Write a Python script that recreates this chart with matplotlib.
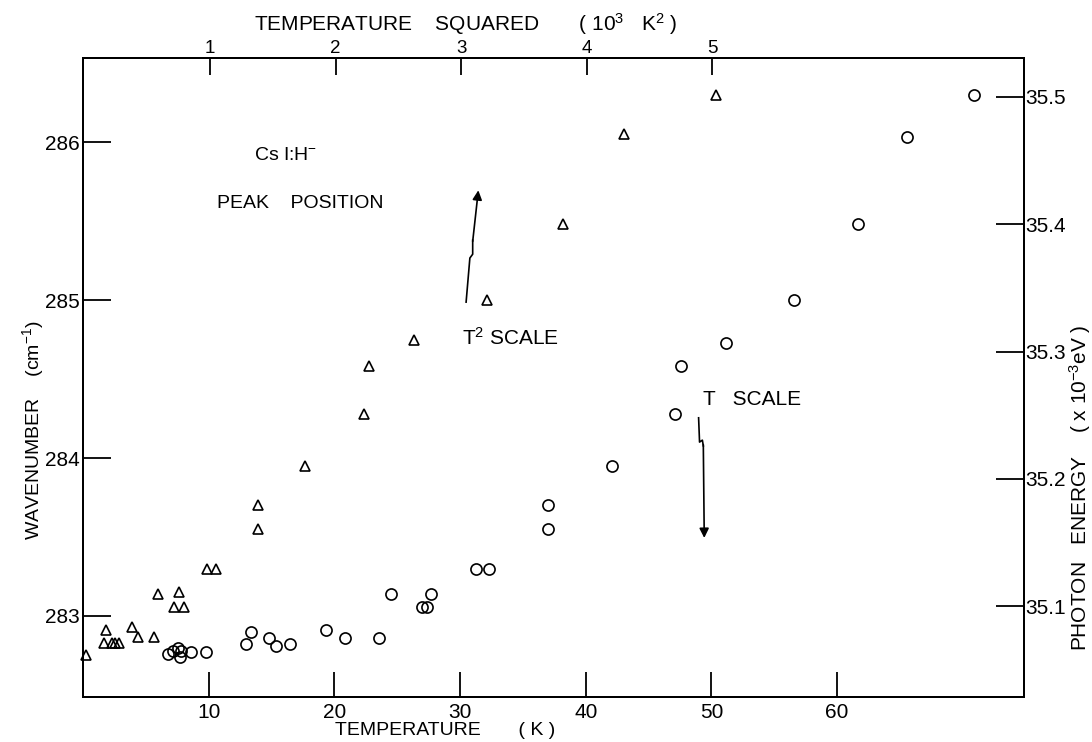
import matplotlib.pyplot as plt

plt.rcParams['font.family'] = ['Liberation Sans', 'DejaVu Sans']
plt.rcParams['mathtext.default'] = 'regular'

# peak position vs temperature (plotted on the T scale, open circles)
temp_k = [6.77, 7.20, 7.57, 7.78, 7.70, 8.57, 9.81, 12.94, 13.33, 14.82,
          15.37, 16.45, 19.37, 20.85, 23.52, 24.52, 26.96, 27.35, 27.67,
          31.24, 32.30, 37.0, 37.0, 42.1, 47.1, 47.6, 51.2, 56.6, 61.7,
          65.6, 70.9]
wn_t = [282.76, 282.78, 282.80, 282.78, 282.74, 282.77, 282.77, 282.82,
        282.90, 282.86, 282.81, 282.82, 282.91, 282.86, 282.86, 283.14,
        283.06, 283.06, 283.14, 283.30, 283.30, 283.70, 283.55, 283.95,
        284.28, 284.58, 284.73, 285.00, 285.48, 286.03, 286.30]

# same peak vs temperature squared (K^2, triangles)
temp_sq = [10, 171, 158, 217, 243, 275, 376, 429, 554, 588, 753, 716, 795,
           974, 1045, 1382, 1382, 1757, 2227, 2267, 2625, 3207, 3813, 4299,
           5032]
wn_sq = [282.75, 282.91, 282.83, 282.83, 282.83, 282.83, 282.93, 282.87,
         282.87, 283.14, 283.15, 283.06, 283.06, 283.30, 283.30, 283.70,
         283.55, 283.95, 284.28, 284.58, 284.75, 285.00, 285.48, 286.05,
         286.30]

x_ticks = [10, 20, 30, 40, 50, 60]
sq_ticks = [1000, 2000, 3000, 4000, 5000]
sq_labels = ['1', '2', '3', '4', '5']
wn_ticks = [283, 284, 285, 286]
ev_ticks = [35.1, 35.2, 35.3, 35.4, 35.5]

CM_TO_MEV = 0.123984
EV_OFFSET = 0.005


def wn_to_mev(w):
    return w * CM_TO_MEV + EV_OFFSET


def mev_to_wn(e):
    return (e - EV_OFFSET) / CM_TO_MEV


fig = plt.figure(figsize=(10.92, 7.42), dpi=100)
ax = fig.add_axes([0.076, 0.0606, 0.862, 0.8612])
ax.set_xlim(0, 74.9)
ax.set_ylim(282.487, 286.532)

ax.plot(temp_k, wn_t, 'o', mfc='none', mec='black', ms=8, mew=1.2,
        clip_on=False)

ax2 = ax.twiny()
ax2.set_xlim(-12, 7486)
ax2.plot(temp_sq, wn_sq, '^', mfc='none', mec='black', ms=6.5, mew=1.2,
         clip_on=False)

for sp in list(ax.spines.values()) + list(ax2.spines.values()):
    sp.set_linewidth(1.4)

ax.set_xticks(x_ticks)
ax.set_yticks(wn_ticks)
ax.tick_params(axis='x', direction='in', length=18, width=1.3,
               labelsize=15, pad=4)
ax.tick_params(axis='y', direction='in', length=20, width=1.3,
               labelsize=15, pad=2)

ax2.set_xticks(sq_ticks)
ax2.set_xticklabels(sq_labels)
ax2.tick_params(axis='x', direction='in', length=12, width=1.3,
                labelsize=13.5, pad=1)

ax_r = ax.secondary_yaxis('right', functions=(wn_to_mev, mev_to_wn))
ax_r.set_yticks(ev_ticks)
ax_r.set_yticklabels([f'{v:.1f}' for v in ev_ticks])
ax_r.tick_params(direction='in', length=20, width=1.3, labelsize=15, pad=1)
ax_r.spines['right'].set_linewidth(1.4)

# axis titles
fig.text(0.4267, 0.968,
         'TEMPERATURE    SQUARED       ( 10$^3$   K$^2$ )',
         ha='center', va='center', fontsize=15)
fig.text(0.4075, 0.016, 'TEMPERATURE       ( K )', ha='center',
         va='center', fontsize=14)
fig.text(0.030, 0.42, 'WAVENUMBER    (cm$^{-1}$)', ha='center',
         va='center', rotation=90, fontsize=14)
fig.text(0.989, 0.343, 'PHOTON   ENERGY    ( x 10$^{-3}$eV )', ha='center',
         va='center', rotation=90, fontsize=15)

# annotations inside the frame
ax.text(0.215, 0.848, 'Cs I:H$^{-}$', transform=ax.transAxes, ha='center',
        va='center', fontsize=14)
ax.text(0.231, 0.773, 'PEAK    POSITION', transform=ax.transAxes,
        ha='center', va='center', fontsize=14)
ax.text(0.454, 0.562, 'T$^2$ SCALE', transform=ax.transAxes, ha='center',
        va='center', fontsize=15)
ax.text(0.711, 0.466, 'T   SCALE', transform=ax.transAxes, ha='center',
        va='center', fontsize=15)

# hand-drawn style arrows pointing to each scale
ax.plot([0.407, 0.411, 0.414, 0.414], [0.618, 0.687, 0.693, 0.715],
        color='black', lw=1.2, transform=ax.transAxes)
ax.annotate('', xy=(0.420, 0.793), xytext=(0.414, 0.713),
            xycoords='axes fraction',
            arrowprops=dict(arrowstyle='-|>', color='black', lw=1.2,
                            mutation_scale=14, shrinkA=0, shrinkB=0))
ax.plot([0.654, 0.655, 0.658, 0.659], [0.437, 0.399, 0.402, 0.393],
        color='black', lw=1.2, transform=ax.transAxes)
ax.annotate('', xy=(0.660, 0.249), xytext=(0.659, 0.395),
            xycoords='axes fraction',
            arrowprops=dict(arrowstyle='-|>', color='black', lw=1.2,
                            mutation_scale=14, shrinkA=0, shrinkB=0))

fig.savefig('out.png', dpi=100)
